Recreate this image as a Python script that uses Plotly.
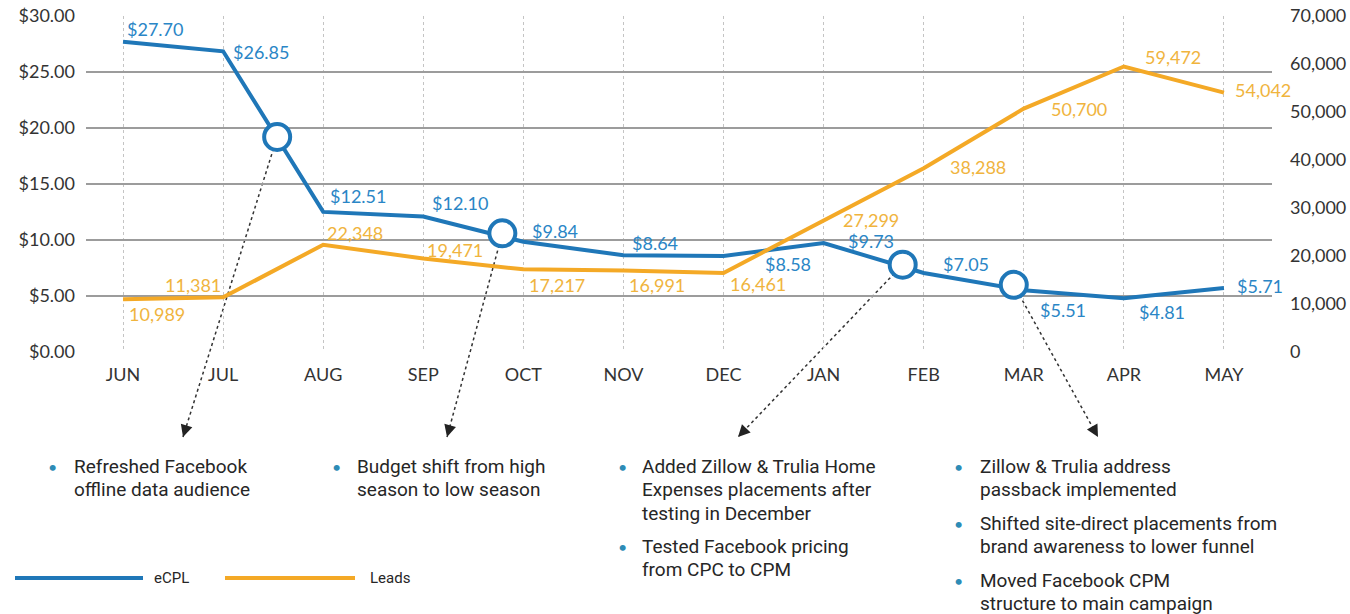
import plotly.graph_objects as go

# ---- data ---------------------------------------------------------------
months = ["JUN", "JUL", "AUG", "SEP", "OCT", "NOV", "DEC", "JAN", "FEB", "MAR", "APR", "MAY"]
ecpl = [27.70, 26.85, 12.51, 12.10, 9.84, 8.64, 8.58, 9.73, 7.05, 5.51, 4.81, 5.71]
leads = [10989, 11381, 22348, 19471, 17217, 16991, 16461, 27299, 38288, 50700, 59472, 54042]

# milestones marked on the eCPL line (fractional month index, eCPL value)
milestone_x = [1.54, 3.79, 7.79, 8.90]
milestone_y = [19.2, 10.6, 7.8, 6.0]
milestone_notes = [
    [["Refreshed Facebook", "offline data audience"]],
    [["Budget shift from high", "season to low season"]],
    [["Added Zillow & Trulia Home", "Expenses placements after", "testing in December"],
     ["Tested Facebook pricing", "from CPC to CPM"]],
    [["Zillow & Trulia address", "passback implemented"],
     ["Shifted site-direct placements from", "brand awareness to lower funnel"],
     ["Moved Facebook CPM", "structure to main campaign"]],
]

y_ticks = [0, 5, 10, 15, 20, 25, 30]
y_ticktext = ["$0.00", "$5.00", "$10.00", "$15.00", "$20.00", "$25.00", "$30.00"]
y2_ticks = [0, 10000, 20000, 30000, 40000, 50000, 60000, 70000]

# ---- styling ------------------------------------------------------------
BLUE = "#1f77b8"
ORANGE = "#f4a926"
BLUE_TXT = "#2a86c6"
ORANGE_TXT = "#f0b43e"
BULLET = "#2d8cb6"
TXT = "#262626"
NUM_FONT = "Lato, 'Open Sans', sans-serif"
NOTE_FONT = "Roboto, 'Open Sans', sans-serif"

W, H = 1350, 614
ML, MR, MT, MB = 86, 78, 16, 262
X_RANGE = [-0.37, 11.48]
PW, PH = W - ML - MR, H - MT - MB

# value-label offsets (pixels) relative to each point
ecpl_dx = [2, 8, 5, 7, 7, 7, 39, 22, 17, 14, 13, 11]
ecpl_dy = [13, -1, 16, 13, 11, 12, -8, 2, 9, -20, -14, 2]
leads_dx = [4, 0, 2, 2, 4, 4, 4, 17, 24, 25, 19, 9]
leads_dy = [-15, 12, 12, 9, -16, -15, -11, 1, 1, 0, 10, 3]
leads_anchor = ["left", "right"] + ["left"] * 10

# note layout (pixels)
arrow_tips = [(183, 437), (447, 437), (738, 437), (1098, 437)]
bullet_x = [52, 336, 622, 958]
note_x = [72, 355, 640, 978]
item_top = [[467], [467], [467, 546], [467, 523, 580]]
LINE_GAP = 23


def paper(px, py):
    return (px - ML) / PW, (H - MB - py) / PH


def data_to_paper(x, y):
    return (x - X_RANGE[0]) / (X_RANGE[1] - X_RANGE[0]), y / y_ticks[-1]


fig = go.Figure()

fig.add_trace(go.Scatter(
    x=list(range(len(months))), y=leads, yaxis="y2", mode="lines",
    line=dict(color=ORANGE, width=4), name="Leads", hoverinfo="skip"))
fig.add_trace(go.Scatter(
    x=list(range(len(months))), y=ecpl, mode="lines",
    line=dict(color=BLUE, width=4), name="eCPL", hoverinfo="skip"))
fig.add_trace(go.Scatter(
    x=milestone_x, y=milestone_y, mode="markers",
    marker=dict(size=26, color="white", line=dict(color=BLUE, width=4)),
    hoverinfo="skip", showlegend=False))

annotations = []
shapes = []

for i, v in enumerate(ecpl):
    annotations.append(dict(
        x=i, y=v, xref="x", yref="y", text=f"${v:.2f}", showarrow=False,
        xanchor="left", yanchor="middle", xshift=ecpl_dx[i], yshift=ecpl_dy[i],
        font=dict(family=NUM_FONT, size=18, color=BLUE_TXT)))

for i, v in enumerate(leads):
    annotations.append(dict(
        x=i, y=v, xref="x", yref="y2", text=f"{v:,}", showarrow=False,
        xanchor=leads_anchor[i], yanchor="middle", xshift=leads_dx[i], yshift=leads_dy[i],
        font=dict(family=NUM_FONT, size=18, color=ORANGE_TXT)))

# dotted leader lines with arrowheads from each milestone to its notes
for k in range(len(milestone_x)):
    sx, sy = data_to_paper(milestone_x[k], milestone_y[k])
    tx, ty = paper(*arrow_tips[k])
    shapes.append(dict(
        type="line", xref="paper", yref="paper", x0=sx, y0=sy, x1=tx, y1=ty,
        layer="below", line=dict(color="#333333", width=1.5, dash="dot")))
    # arrowhead
    spx = ML + sx * PW
    spy = H - MB - sy * PH
    dx, dy = spx - arrow_tips[k][0], spy - arrow_tips[k][1]
    n = (dx * dx + dy * dy) ** 0.5
    annotations.append(dict(
        x=tx, y=ty, xref="paper", yref="paper", text="", showarrow=True,
        ax=dx / n * 12, ay=dy / n * 12, axref="pixel", ayref="pixel",
        arrowhead=2, arrowsize=1.5, arrowwidth=1.6, arrowcolor="#222222", standoff=0))

    for j, item in enumerate(milestone_notes[k]):
        top = item_top[k][j]
        bx, by = paper(bullet_x[k], top)
        annotations.append(dict(
            x=bx, y=by, xref="paper", yref="paper", text="•", showarrow=False,
            xanchor="center", yanchor="middle",
            font=dict(family=NUM_FONT, size=16, color=BULLET)))
        for m, line in enumerate(item):
            lx, ly = paper(note_x[k], top + m * LINE_GAP)
            annotations.append(dict(
                x=lx, y=ly, xref="paper", yref="paper", text=line, showarrow=False,
                xanchor="left", yanchor="middle",
                font=dict(family=NOTE_FONT, size=19, color=TXT)))

# legend drawn as line swatches with labels
legend_items = [("eCPL", BLUE, 15, 143, 152), ("Leads", ORANGE, 225, 355, 368)]
for name, color, x0, x1, tx in legend_items:
    p0x, p0y = paper(x0, 578)
    p1x, _ = paper(x1, 578)
    shapes.append(dict(type="line", xref="paper", yref="paper", x0=p0x, y0=p0y,
                       x1=p1x, y1=p0y, line=dict(color=color, width=4)))
    lx, ly = paper(tx, 578)
    annotations.append(dict(
        x=lx, y=ly, xref="paper", yref="paper", text=name, showarrow=False,
        xanchor="left", yanchor="middle",
        font=dict(family=NOTE_FONT, size=15, color=TXT)))

fig.update_layout(
    width=W, height=H,
    margin=dict(l=ML, r=MR, t=MT, b=MB, autoexpand=False),
    paper_bgcolor="white", plot_bgcolor="rgba(0,0,0,0)",
    showlegend=False,
    xaxis=dict(
        range=X_RANGE, tickvals=list(range(len(months))), ticktext=months,
        showgrid=True, griddash="dot", gridcolor="#c4c4c4", gridwidth=1,
        zeroline=False, showline=False, ticks="", ticklabelstandoff=10,
        automargin=False,
        tickfont=dict(family=NUM_FONT, size=18, color="#333333")),
    yaxis=dict(
        range=[y_ticks[0], y_ticks[-1]], tickvals=y_ticks, ticktext=y_ticktext,
        showgrid=True, gridcolor="#9c9c9c", gridwidth=1.5, zeroline=False,
        showline=False, ticks="", ticklabelstandoff=10, automargin=False,
        tickfont=dict(family=NUM_FONT, size=18, color="#333333")),
    yaxis2=dict(
        range=[y2_ticks[0], y2_ticks[-1]], tickvals=y2_ticks, tickformat=",",
        overlaying="y", side="right", showgrid=False, zeroline=False,
        showline=False, ticks="", ticklabelstandoff=17, automargin=False,
        tickfont=dict(family=NUM_FONT, size=18, color="#333333")),
    annotations=annotations,
    shapes=shapes,
)

fig.write_html("out.html")
